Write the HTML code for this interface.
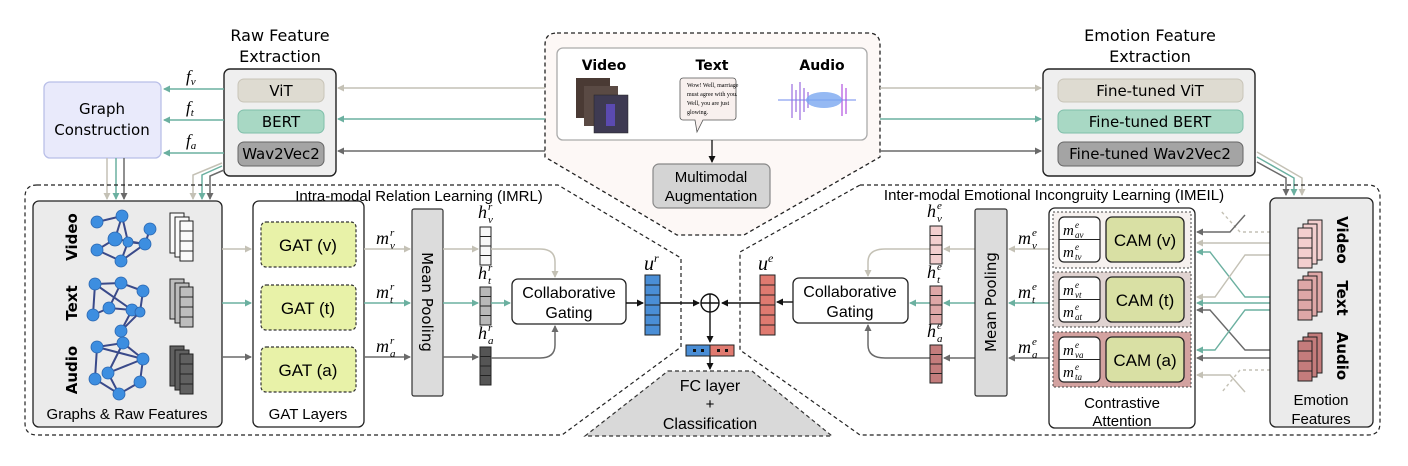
<!DOCTYPE html>
<html><head><meta charset="utf-8"><style>
html,body{margin:0;padding:0;background:#fff}
svg{display:block}
.s{font-family:"Liberation Sans Narrow","Liberation Sans",sans-serif}
.d{font-family:"DejaVu Sans","Liberation Sans",sans-serif}
.m{font-family:"Liberation Serif",serif;font-style:italic}
</style></head><body>
<svg width="1408" height="466" viewBox="0 0 1408 466" xmlns="http://www.w3.org/2000/svg">
<defs>
<marker id="ag" markerWidth="8" markerHeight="8" refX="6" refY="4" orient="auto" markerUnits="userSpaceOnUse"><path d="M0,0.5 L7,4 L0,7.5z" fill="#c4c1b5"/></marker>
<marker id="at" markerWidth="8" markerHeight="8" refX="6" refY="4" orient="auto" markerUnits="userSpaceOnUse"><path d="M0,0.5 L7,4 L0,7.5z" fill="#6bb0a0"/></marker>
<marker id="ad" markerWidth="8" markerHeight="8" refX="6" refY="4" orient="auto" markerUnits="userSpaceOnUse"><path d="M0,0.5 L7,4 L0,7.5z" fill="#6a6a6a"/></marker>
<marker id="ak" markerWidth="8" markerHeight="8" refX="6" refY="4" orient="auto" markerUnits="userSpaceOnUse"><path d="M0,0.5 L7,4 L0,7.5z" fill="#111"/></marker>
</defs>

<!-- center dashed shape -->
<path d="M557,33 H868 Q880,33 880,45 V157 L744,235 H677 L545,157 V45 Q545,33 557,33Z" fill="#fdf8f6" stroke="#222" stroke-width="1.3" stroke-dasharray="4,3"/>
<rect x="557" y="48" width="310" height="92" rx="6" fill="#fff" stroke="#aaa" stroke-width="1.3"/>
<text class="d" x="604" y="70" font-size="14" font-weight="bold" text-anchor="middle">Video</text>
<text class="d" x="712" y="70" font-size="14" font-weight="bold" text-anchor="middle">Text</text>
<text class="d" x="822" y="70" font-size="14" font-weight="bold" text-anchor="middle">Audio</text>
<rect x="576" y="78" width="34" height="40" fill="#4a3a34"/>
<rect x="584" y="86" width="34" height="40" fill="#5a4a44"/>
<rect x="594" y="95" width="34" height="38" fill="#3e3a52" stroke="#222" stroke-width="0.5"/>
<rect x="606" y="104" width="9" height="22" fill="#5b4ab0"/>
<path d="M683,78 h50 a3,3 0 0 1 3,3 v36 a3,3 0 0 1 -3,3 h-30 l-6,12 l-2,-12 h-12 a3,3 0 0 1 -3,-3 v-36 a3,3 0 0 1 3,-3z" fill="#f8f0ee" stroke="#555" stroke-width="0.8"/>
<text font-family="Liberation Serif,serif" font-size="6" x="687" y="87">Wow! Well, marriage</text>
<text font-family="Liberation Serif,serif" font-size="6" x="687" y="96">must agree with you.</text>
<text font-family="Liberation Serif,serif" font-size="6" x="687" y="105">Well, you are just</text>
<text font-family="Liberation Serif,serif" font-size="6" x="687" y="114">glowing.</text>
<g stroke="#9a6ae0" stroke-width="1.2">
<line x1="778" y1="100" x2="856" y2="100" stroke="#8aa0f0"/>
<line x1="792" y1="84" x2="792" y2="118"/><line x1="796" y1="90" x2="796" y2="112"/><line x1="800" y1="82" x2="800" y2="120"/><line x1="804" y1="88" x2="804" y2="112"/><line x1="808" y1="92" x2="808" y2="108"/>
<line x1="846" y1="88" x2="846" y2="114" stroke="#b050e0"/><line x1="842" y1="84" x2="842" y2="116" stroke="#b050e0"/>
</g>
<ellipse cx="824" cy="100" rx="18" ry="8" fill="#7aa8f0" opacity="0.8"/>
<line x1="712" y1="140" x2="712" y2="162" stroke="#111" stroke-width="1.3" marker-end="url(#ak)"/>
<rect x="653" y="164" width="117" height="44" rx="6" fill="#d4d4d4" stroke="#888" stroke-width="1.2"/>
<text class="s" x="711" y="182" font-size="15" text-anchor="middle">Multimodal</text>
<text class="s" x="711" y="201" font-size="15" text-anchor="middle">Augmentation</text>

<!-- top horizontal arrows -->
<line x1="545" y1="88" x2="338" y2="88" stroke="#c4c1b5" stroke-width="1.6" marker-end="url(#ag)"/>
<line x1="545" y1="119" x2="338" y2="119" stroke="#6bb0a0" stroke-width="1.6" marker-end="url(#at)"/>
<line x1="545" y1="151" x2="338" y2="151" stroke="#6a6a6a" stroke-width="1.6" marker-end="url(#ad)"/>
<line x1="880" y1="88" x2="1041" y2="88" stroke="#c4c1b5" stroke-width="1.6" marker-end="url(#ag)"/>
<line x1="880" y1="119" x2="1041" y2="119" stroke="#6bb0a0" stroke-width="1.6" marker-end="url(#at)"/>
<line x1="880" y1="151" x2="1041" y2="151" stroke="#6a6a6a" stroke-width="1.6" marker-end="url(#ad)"/>

<!-- Raw feature extraction -->
<text class="d" x="280" y="41" font-size="16" text-anchor="middle">Raw Feature</text>
<text class="d" x="280" y="62" font-size="16" text-anchor="middle">Extraction</text>
<rect x="224" y="69" width="112" height="107" rx="6" fill="#efefef" stroke="#222" stroke-width="1.4"/>
<rect x="238" y="79" width="86" height="23" rx="6" fill="#dedbd1" stroke="#c8c4b8"/>
<text class="d" x="281" y="96" font-size="15" text-anchor="middle">ViT</text>
<rect x="238" y="110" width="86" height="23" rx="6" fill="#a8d8c4" stroke="#7fbfaa"/>
<text class="d" x="281" y="127" font-size="15" text-anchor="middle">BERT</text>
<rect x="238" y="142" width="86" height="24" rx="6" fill="#a4a4a4" stroke="#666"/>
<text class="d" x="281" y="159" font-size="15" text-anchor="middle">Wav2Vec2</text>

<!-- Graph construction -->
<rect x="44" y="82" width="117" height="76" rx="6" fill="#e9eafb" stroke="#b9bfe8" stroke-width="1.3"/>
<text class="d" x="102" y="114" font-size="15" text-anchor="middle">Graph</text>
<text class="d" x="102" y="135" font-size="15" text-anchor="middle">Construction</text>
<line x1="224" y1="89" x2="164" y2="89" stroke="#6bb0a0" stroke-width="1.6" marker-end="url(#at)"/>
<line x1="224" y1="120" x2="164" y2="120" stroke="#6bb0a0" stroke-width="1.6" marker-end="url(#at)"/>
<line x1="224" y1="153" x2="164" y2="153" stroke="#6bb0a0" stroke-width="1.6" marker-end="url(#at)"/>
<text class="m" x="186" y="82" font-size="17">f<tspan font-size="11" dy="3">v</tspan></text>
<text class="m" x="186" y="113" font-size="17">f<tspan font-size="11" dy="3">t</tspan></text>
<text class="m" x="186" y="146" font-size="17">f<tspan font-size="11" dy="3">a</tspan></text>

<!-- down arrows -->
<line x1="107" y1="158" x2="107" y2="199" stroke="#c4c1b5" stroke-width="1.5" marker-end="url(#ag)"/>
<line x1="116" y1="158" x2="116" y2="199" stroke="#6bb0a0" stroke-width="1.5" marker-end="url(#at)"/>
<line x1="124" y1="158" x2="124" y2="199" stroke="#6a6a6a" stroke-width="1.5" marker-end="url(#ad)"/>
<path d="M222,163 L193,175 V199" fill="none" stroke="#c4c1b5" stroke-width="1.5" marker-end="url(#ag)"/>
<path d="M222,166 L202,175 V199" fill="none" stroke="#6bb0a0" stroke-width="1.5" marker-end="url(#at)"/>
<path d="M224,170 L210,176 V199" fill="none" stroke="#6a6a6a" stroke-width="1.5" marker-end="url(#ad)"/>

<!-- Emotion feature extraction -->
<text class="d" x="1150" y="41" font-size="16" text-anchor="middle">Emotion Feature</text>
<text class="d" x="1150" y="62" font-size="16" text-anchor="middle">Extraction</text>
<rect x="1043" y="69" width="212" height="107" rx="6" fill="#efefef" stroke="#222" stroke-width="1.4"/>
<rect x="1058" y="79" width="185" height="23" rx="6" fill="#dedbd1" stroke="#c8c4b8"/>
<text class="d" x="1150" y="96" font-size="15" text-anchor="middle">Fine-tuned ViT</text>
<rect x="1058" y="110" width="185" height="23" rx="6" fill="#a8d8c4" stroke="#7fbfaa"/>
<text class="d" x="1150" y="127" font-size="15" text-anchor="middle">Fine-tuned BERT</text>
<rect x="1058" y="142" width="185" height="24" rx="6" fill="#a4a4a4" stroke="#666"/>
<text class="d" x="1150" y="159" font-size="15" text-anchor="middle">Fine-tuned Wav2Vec2</text>
<path d="M1257,152 L1302,178 V195" fill="none" stroke="#c4c1b5" stroke-width="1.5" marker-end="url(#ag)"/>
<path d="M1257,157 L1294,178 V195" fill="none" stroke="#6bb0a0" stroke-width="1.5" marker-end="url(#at)"/>
<path d="M1257,162 L1286,178 V195" fill="none" stroke="#6a6a6a" stroke-width="1.5" marker-end="url(#ad)"/>

<!-- IMRL region -->
<path d="M37,185 H558 L681,258 V347 L562,435 H37 Q25,435 25,423 V197 Q25,185 37,185Z" fill="none" stroke="#222" stroke-width="1.2" stroke-dasharray="4,3"/>
<text class="s" x="419" y="201" font-size="15" text-anchor="middle">Intra-modal Relation Learning (IMRL)</text>
<rect x="33" y="201" width="189" height="226" rx="6" fill="#ebebeb" stroke="#222" stroke-width="1.3"/>
<text class="d" x="72" y="237" font-size="15" font-weight="bold" text-anchor="middle" transform="rotate(-90 72 237)" dy="5">Video</text>
<text class="d" x="72" y="303" font-size="15" font-weight="bold" text-anchor="middle" transform="rotate(-90 72 303)" dy="5">Text</text>
<text class="d" x="72" y="370" font-size="15" font-weight="bold" text-anchor="middle" transform="rotate(-90 72 370)" dy="5">Audio</text>
<g stroke="#3a4a8a" stroke-width="2" fill="none">
<path d="M97,222 L122,216 L115,239 L97,250 M122,216 L128,242 L145,244 L150,229 M115,239 L145,244 L121,261 L97,250 M128,242 L121,261"/>
<path d="M95,284 L121,283 L143,291 M95,284 L93,315 M95,284 L132,310 L121,331 M121,283 L109,308 L93,315 M143,291 L140,312 L121,331 M109,308 L132,310"/>
<path d="M97,347 L123,343 L143,359 M97,347 L95,379 L119,394 L140,382 L143,359 M97,347 L143,359 M123,343 L108,373 L119,394 M108,373 L143,359"/>
</g>
<g fill="#3d8ee0" stroke="#2a66b0" stroke-width="0.8">
<circle cx="97" cy="222" r="6"/><circle cx="122" cy="216" r="6"/><circle cx="150" cy="229" r="6"/><circle cx="115" cy="239" r="7"/><circle cx="145" cy="244" r="6"/><circle cx="97" cy="250" r="6"/><circle cx="121" cy="261" r="6"/><circle cx="128" cy="242" r="5"/>
<circle cx="95" cy="284" r="6"/><circle cx="121" cy="283" r="6"/><circle cx="143" cy="291" r="6"/><circle cx="109" cy="308" r="6"/><circle cx="132" cy="310" r="6"/><circle cx="140" cy="312" r="5"/><circle cx="93" cy="315" r="6"/><circle cx="121" cy="331" r="6"/>
<circle cx="123" cy="343" r="6"/><circle cx="97" cy="347" r="6"/><circle cx="143" cy="359" r="6"/><circle cx="108" cy="373" r="6"/><circle cx="95" cy="379" r="6"/><circle cx="140" cy="382" r="6"/><circle cx="119" cy="394" r="6"/>
</g>
<g stroke="#222" stroke-width="1">
<g fill="#fafafa"><rect x="170" y="213" width="14" height="40"/><rect x="175" y="217" width="14" height="40"/><rect x="180" y="221" width="13" height="40"/></g>
<g fill="#bdbdbd"><rect x="170" y="279" width="14" height="40"/><rect x="175" y="283" width="14" height="40"/><rect x="180" y="287" width="13" height="40"/></g>
<g fill="#606060"><rect x="170" y="346" width="14" height="40"/><rect x="175" y="350" width="14" height="40"/><rect x="180" y="354" width="13" height="40"/></g>
<path d="M180,231 h13 M180,241 h13 M180,251 h13 M180,297 h13 M180,307 h13 M180,317 h13 M180,364 h13 M180,374 h13 M180,384 h13"/>
</g>
<text class="s" x="127" y="419" font-size="15" text-anchor="middle">Graphs &amp; Raw Features</text>

<rect x="253" y="201" width="111" height="226" rx="6" fill="#fff" stroke="#222" stroke-width="1.3"/>
<g fill="#e8f2a8" stroke="#333" stroke-width="1.2" stroke-dasharray="3,2">
<rect x="261" y="222" width="95" height="45" rx="5"/><rect x="261" y="285" width="95" height="45" rx="5"/><rect x="261" y="347" width="95" height="45" rx="5"/>
</g>
<text class="s" x="308" y="251" font-size="17" text-anchor="middle">GAT (v)</text>
<text class="s" x="308" y="314" font-size="17" text-anchor="middle">GAT (t)</text>
<text class="s" x="308" y="376" font-size="17" text-anchor="middle">GAT (a)</text>
<text class="s" x="308" y="419" font-size="15" text-anchor="middle">GAT Layers</text>
<line x1="222" y1="249" x2="251" y2="249" stroke="#c4c1b5" stroke-width="1.5" marker-end="url(#ag)"/>
<line x1="222" y1="303" x2="251" y2="303" stroke="#6bb0a0" stroke-width="1.5" marker-end="url(#at)"/>
<line x1="222" y1="357" x2="251" y2="357" stroke="#6a6a6a" stroke-width="1.5" marker-end="url(#ad)"/>
<line x1="364" y1="249" x2="410" y2="249" stroke="#c4c1b5" stroke-width="1.5" marker-end="url(#ag)"/>
<line x1="364" y1="303" x2="410" y2="303" stroke="#6bb0a0" stroke-width="1.5" marker-end="url(#at)"/>
<line x1="364" y1="357" x2="410" y2="357" stroke="#6a6a6a" stroke-width="1.5" marker-end="url(#ad)"/>
<g class="m" font-size="18">
<text x="376" y="244">m</text><text x="390" y="236" font-size="11">r</text><text x="390" y="249" font-size="11">v</text>
<text x="376" y="298">m</text><text x="390" y="290" font-size="11">r</text><text x="390" y="303" font-size="11">t</text>
<text x="376" y="352">m</text><text x="390" y="344" font-size="11">r</text><text x="390" y="357" font-size="11">a</text>
</g>
<rect x="412" y="209" width="31" height="187" rx="2" fill="#dcdcdc" stroke="#333" stroke-width="1.2"/>
<text class="d" x="427" y="302" font-size="15" text-anchor="middle" transform="rotate(90 427 302)" dy="5">Mean Pooling</text>
<line x1="443" y1="249" x2="478" y2="249" stroke="#c4c1b5" stroke-width="1.5" marker-end="url(#ag)"/>
<line x1="443" y1="303" x2="478" y2="303" stroke="#6bb0a0" stroke-width="1.5" marker-end="url(#at)"/>
<line x1="443" y1="357" x2="478" y2="357" stroke="#6a6a6a" stroke-width="1.5" marker-end="url(#ad)"/>
<g stroke="#222" stroke-width="1">
<rect x="480" y="227" width="11" height="38" fill="#f8f8f8"/><path d="M480,236.5h11M480,246h11M480,255.5h11"/>
<rect x="480" y="287" width="11" height="38" fill="#b8b8b8"/><path d="M480,296.5h11M480,306h11M480,315.5h11"/>
<rect x="480" y="347" width="11" height="38" fill="#555"/><path d="M480,356.5h11M480,366h11M480,375.5h11"/>
</g>
<g class="m" font-size="18">
<text x="478" y="218">h</text><text x="488" y="210" font-size="11">r</text><text x="488" y="223" font-size="11">v</text>
<text x="478" y="279">h</text><text x="488" y="271" font-size="11">r</text><text x="488" y="284" font-size="11">t</text>
<text x="478" y="339">h</text><text x="488" y="331" font-size="11">r</text><text x="488" y="344" font-size="11">a</text>
</g>
<path d="M491,249 H540 Q555,249 555,262 V277" fill="none" stroke="#c4c1b5" stroke-width="1.5" marker-end="url(#ag)"/>
<line x1="491" y1="303" x2="510" y2="303" stroke="#6bb0a0" stroke-width="1.5" marker-end="url(#at)"/>
<path d="M491,358 H540 Q555,358 555,345 V326" fill="none" stroke="#6a6a6a" stroke-width="1.5" marker-end="url(#ad)"/>
<rect x="512" y="279" width="114" height="45" rx="6" fill="#fff" stroke="#222" stroke-width="1.3"/>
<text class="s" x="569" y="298" font-size="16" text-anchor="middle">Collaborative</text>
<text class="s" x="569" y="318" font-size="16" text-anchor="middle">Gating</text>
<line x1="626" y1="303" x2="643" y2="303" stroke="#111" stroke-width="1.4" marker-end="url(#ak)"/>
<g stroke="#222" stroke-width="1"><rect x="645" y="275" width="15" height="60" fill="#4a8ed6"/><path d="M645,285h15M645,295h15M645,305h15M645,315h15M645,325h15"/></g>
<text class="m" x="644" y="270" font-size="20">u<tspan font-size="12" dy="-8">r</tspan></text>
<line x1="660" y1="303" x2="699" y2="303" stroke="#111" stroke-width="1.4" marker-end="url(#ak)"/>

<!-- center oplus and FC -->
<circle cx="710" cy="303" r="9" fill="#fff" stroke="#111" stroke-width="1.4"/>
<path d="M701,303h18M710,294v18" stroke="#111" stroke-width="1.4"/>
<line x1="710" y1="312" x2="710" y2="342" stroke="#111" stroke-width="1.4" marker-end="url(#ak)"/>
<rect x="686" y="345" width="24" height="11" fill="#4a8ed6" stroke="#222"/>
<rect x="710" y="345" width="24" height="11" fill="#e07a70" stroke="#222"/>
<g fill="#111"><rect x="693" y="349" width="3" height="3"/><rect x="701" y="349" width="3" height="3"/><rect x="717" y="349" width="3" height="3"/><rect x="725" y="349" width="3" height="3"/></g>
<line x1="710" y1="356" x2="710" y2="369" stroke="#111" stroke-width="1.4" marker-end="url(#ak)"/>
<path d="M668,371 H752 L832,436 H585 Z" fill="#d9d9d9" stroke="#333" stroke-width="1.2" stroke-dasharray="4,3"/>
<text class="s" x="710" y="391" font-size="16" text-anchor="middle">FC layer</text>
<text class="s" x="710" y="409" font-size="15" text-anchor="middle">+</text>
<text class="s" x="710" y="429" font-size="16" text-anchor="middle">Classification</text>

<!-- IMEIL region -->
<path d="M860,185 H1368 Q1380,185 1380,197 V423 Q1380,435 1368,435 H860 L740,350 V252 Z" fill="none" stroke="#222" stroke-width="1.2" stroke-dasharray="4,3"/>
<text class="s" x="1054" y="200" font-size="15" text-anchor="middle">Inter-modal Emotional Incongruity Learning (IMEIL)</text>
<line x1="760" y1="303" x2="722" y2="303" stroke="#111" stroke-width="1.4" marker-end="url(#ak)"/>
<g stroke="#222" stroke-width="1"><rect x="760" y="275" width="15" height="60" fill="#e07a70"/><path d="M760,285h15M760,295h15M760,305h15M760,315h15M760,325h15"/></g>
<text class="m" x="758" y="270" font-size="20">u<tspan font-size="12" dy="-8">e</tspan></text>
<line x1="793" y1="302" x2="777" y2="302" stroke="#111" stroke-width="1.4" marker-end="url(#ak)"/>
<rect x="793" y="278" width="115" height="45" rx="6" fill="#fff" stroke="#222" stroke-width="1.3"/>
<text class="s" x="850" y="297" font-size="16" text-anchor="middle">Collaborative</text>
<text class="s" x="850" y="317" font-size="16" text-anchor="middle">Gating</text>
<path d="M930,249 H885 Q868,249 868,262 V276" fill="none" stroke="#c4c1b5" stroke-width="1.5" marker-end="url(#ag)"/>
<line x1="930" y1="303" x2="910" y2="303" stroke="#6bb0a0" stroke-width="1.5" marker-end="url(#at)"/>
<path d="M930,358 H885 Q868,358 868,345 V325" fill="none" stroke="#6a6a6a" stroke-width="1.5" marker-end="url(#ad)"/>
<g stroke="#222" stroke-width="1">
<rect x="930" y="226" width="12" height="38" fill="#f3cfcf"/><path d="M930,235.5h12M930,245h12M930,254.5h12"/>
<rect x="930" y="286" width="12" height="38" fill="#dea7a7"/><path d="M930,295.5h12M930,305h12M930,314.5h12"/>
<rect x="930" y="345" width="12" height="38" fill="#c47c7c"/><path d="M930,354.5h12M930,364h12M930,373.5h12"/>
</g>
<g class="m" font-size="18">
<text x="927" y="217">h</text><text x="937" y="209" font-size="11">e</text><text x="937" y="222" font-size="11">v</text>
<text x="927" y="278">h</text><text x="937" y="270" font-size="11">e</text><text x="937" y="283" font-size="11">t</text>
<text x="927" y="337">h</text><text x="937" y="329" font-size="11">e</text><text x="937" y="342" font-size="11">a</text>
</g>
<line x1="975" y1="249" x2="944" y2="249" stroke="#c4c1b5" stroke-width="1.5" marker-end="url(#ag)"/>
<line x1="975" y1="303" x2="944" y2="303" stroke="#6bb0a0" stroke-width="1.5" marker-end="url(#at)"/>
<line x1="975" y1="358" x2="944" y2="358" stroke="#6a6a6a" stroke-width="1.5" marker-end="url(#ad)"/>
<rect x="975" y="209" width="32" height="187" rx="2" fill="#dcdcdc" stroke="#333" stroke-width="1.2"/>
<text class="d" x="991" y="302" font-size="15" text-anchor="middle" transform="rotate(-90 991 302)" dy="5">Mean Pooling</text>
<line x1="1049" y1="249" x2="1009" y2="249" stroke="#c4c1b5" stroke-width="1.5" marker-end="url(#ag)"/>
<line x1="1049" y1="303" x2="1009" y2="303" stroke="#6bb0a0" stroke-width="1.5" marker-end="url(#at)"/>
<line x1="1049" y1="358" x2="1009" y2="358" stroke="#6a6a6a" stroke-width="1.5" marker-end="url(#ad)"/>
<g class="m" font-size="18">
<text x="1018" y="244">m</text><text x="1032" y="236" font-size="11">e</text><text x="1032" y="249" font-size="11">v</text>
<text x="1018" y="298">m</text><text x="1032" y="290" font-size="11">e</text><text x="1032" y="303" font-size="11">t</text>
<text x="1018" y="353">m</text><text x="1032" y="345" font-size="11">e</text><text x="1032" y="358" font-size="11">a</text>
</g>

<rect x="1049" y="208" width="146" height="220" rx="6" fill="#fff" stroke="#222" stroke-width="1.3"/>
<g stroke="#444" stroke-width="1" stroke-dasharray="2,2">
<rect x="1053" y="212" width="138" height="56" fill="#f6f1ef"/>
<rect x="1053" y="272" width="138" height="55" fill="#e0d3d1"/>
<rect x="1053" y="332" width="138" height="55" fill="#d3a2a0"/>
</g>
<g fill="#fff" stroke="#222" stroke-width="1.2">
<rect x="1059" y="217" width="41" height="45" rx="5"/><rect x="1059" y="277" width="41" height="45" rx="5"/><rect x="1059" y="337" width="41" height="45" rx="5"/>
</g>
<path d="M1059,239.5h41M1059,299.5h41M1059,359.5h41" stroke="#222"/>
<g fill="#d9e0a4" stroke="#222" stroke-width="1.3">
<rect x="1106" y="217" width="78" height="45" rx="6"/><rect x="1106" y="277" width="78" height="45" rx="6"/><rect x="1106" y="337" width="78" height="45" rx="6"/>
</g>
<text class="s" x="1145" y="246" font-size="17" text-anchor="middle">CAM (v)</text>
<text class="s" x="1145" y="306" font-size="17" text-anchor="middle">CAM (t)</text>
<text class="s" x="1145" y="366" font-size="17" text-anchor="middle">CAM (a)</text>
<g class="m" font-size="15">
<text x="1063" y="235">m</text><text x="1075" y="228" font-size="9">e</text><text x="1075" y="238" font-size="9">av</text>
<text x="1063" y="257">m</text><text x="1075" y="250" font-size="9">e</text><text x="1075" y="260" font-size="9">tv</text>
<text x="1063" y="295">m</text><text x="1075" y="288" font-size="9">e</text><text x="1075" y="298" font-size="9">vt</text>
<text x="1063" y="317">m</text><text x="1075" y="310" font-size="9">e</text><text x="1075" y="320" font-size="9">at</text>
<text x="1063" y="355">m</text><text x="1075" y="348" font-size="9">e</text><text x="1075" y="358" font-size="9">va</text>
<text x="1063" y="377">m</text><text x="1075" y="370" font-size="9">e</text><text x="1075" y="380" font-size="9">ta</text>
</g>
<text class="s" x="1122" y="408" font-size="15" text-anchor="middle">Contrastive</text>
<text class="s" x="1122" y="426" font-size="15" text-anchor="middle">Attention</text>

<!-- crossing lines -->
<g fill="none" stroke-width="1.4">
<path d="M1270,243 H1197" stroke="#c4c1b5" marker-end="url(#ag)"/>
<path d="M1270,232 H1240 L1220,210" stroke="#c4c1b5" stroke-dasharray="3,3"/>
<path d="M1245,215 L1230,232 H1197" stroke="#6a6a6a" marker-end="url(#ad)"/>
<path d="M1270,297 H1245 L1210,252 H1197" stroke="#6bb0a0" marker-end="url(#at)"/>
<path d="M1270,255 H1245 L1215,297 H1197" stroke="#c4c1b5" marker-end="url(#ag)"/>
<path d="M1270,303 H1197" stroke="#6bb0a0" marker-end="url(#at)"/>
<path d="M1270,350 H1245 L1210,310 H1197" stroke="#6a6a6a" marker-end="url(#ad)"/>
<path d="M1270,310 H1245 L1215,350 H1197" stroke="#6bb0a0" marker-end="url(#at)"/>
<path d="M1270,358 H1197" stroke="#6a6a6a" marker-end="url(#ad)"/>
<path d="M1245,392 L1230,375 H1197" stroke="#c4c1b5" marker-end="url(#ag)"/>
<path d="M1270,370 H1240 L1222,392" stroke="#c4c1b5" stroke-dasharray="3,3"/>
</g>

<!-- emotion features -->
<rect x="1270" y="198" width="103" height="229" rx="6" fill="#ebebeb" stroke="#222" stroke-width="1.3"/>
<g stroke="#222" stroke-width="1">
<g fill="#f3cfcf"><rect x="1308" y="220" width="14" height="40"/><rect x="1303" y="224" width="14" height="40"/><rect x="1298" y="228" width="14" height="40"/><path d="M1298,238h14M1298,248h14M1298,258h14"/></g>
<g fill="#dea7a7"><rect x="1308" y="272" width="14" height="40"/><rect x="1303" y="276" width="14" height="40"/><rect x="1298" y="280" width="14" height="40"/><path d="M1298,290h14M1298,300h14M1298,310h14"/></g>
<g fill="#c47c7c"><rect x="1308" y="333" width="14" height="40"/><rect x="1303" y="337" width="14" height="40"/><rect x="1298" y="341" width="14" height="40"/><path d="M1298,351h14M1298,361h14M1298,371h14"/></g>
</g>
<text class="d" x="1342" y="240" font-size="15" font-weight="bold" text-anchor="middle" transform="rotate(90 1342 240)" dy="5">Video</text>
<text class="d" x="1342" y="298" font-size="15" font-weight="bold" text-anchor="middle" transform="rotate(90 1342 298)" dy="5">Text</text>
<text class="d" x="1342" y="356" font-size="15" font-weight="bold" text-anchor="middle" transform="rotate(90 1342 356)" dy="5">Audio</text>
<text class="s" x="1321" y="405" font-size="15" text-anchor="middle">Emotion</text>
<text class="s" x="1321" y="424" font-size="15" text-anchor="middle">Features</text>
</svg>
</body></html>
